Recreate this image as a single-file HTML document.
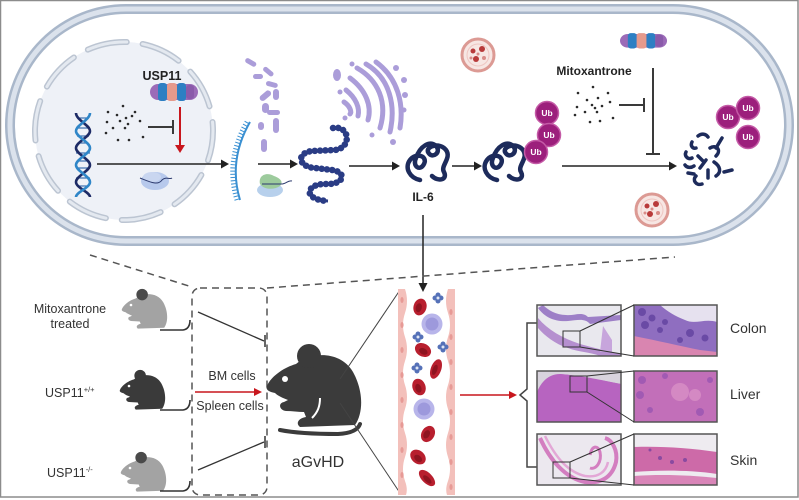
<!DOCTYPE html>
<html><head><meta charset="utf-8"><style>
html,body{margin:0;padding:0;background:#fff;}
svg{display:block;font-family:"Liberation Sans",Arial,sans-serif;}
</style></head><body>
<svg width="799" height="500" viewBox="0 0 799 500" xmlns="http://www.w3.org/2000/svg">
<defs>
<g id="mouse">
<path d="M267,386 C270,378 282,368 296,364 C310,352 340,350 353,372 C363,390 364,412 355,425 L300,427 C295,423 299,418 306,417 L304,412 C298,412 292,411 286,411 C279,410 278,403 284,402 L288,400 C283,398 278,396 275,393 C270,392 265,390 267,386 Z"/>
</g>
<g id="lyso">
<circle r="16" fill="#f7e6e3" stroke="#dc9a94" stroke-width="3"/>
<circle r="11" fill="none" stroke="#eec6c2" stroke-width="1"/>
<circle cx="-5" cy="-4" r="2.5" fill="#b83a3a"/>
<circle cx="4" cy="-6" r="3" fill="#b83a3a"/>
<circle cx="-2" cy="4" r="3" fill="#b83a3a"/>
<circle cx="6" cy="3" r="2" fill="#d98c88"/>
<circle cx="0" cy="-1" r="1.5" fill="#d98c88"/>
<circle cx="-7" cy="3" r="1.5" fill="#d98c88"/>
</g>
<g id="ub">
<circle r="11.5" fill="#9c1f7c" stroke="#c45aa6" stroke-width="1.5"/>
<text x="0" y="3" font-size="8.5" font-weight="bold" fill="#fff" text-anchor="middle">Ub</text>
</g>
<g id="prot">
<rect x="0" y="0" width="48" height="16" rx="8" fill="#9b6bb8"/>
<rect x="8" y="-1" width="9" height="18" rx="3" fill="#2d7fc3"/>
<rect x="17" y="-1" width="10" height="18" rx="3" fill="#e59a8c"/>
<rect x="27" y="-1" width="9" height="18" rx="3" fill="#2d7fc3"/>
<rect x="36" y="1" width="8" height="14" rx="3" fill="#8a5aaa"/>
</g>
<g id="tangle" fill="none" stroke="#1d2b5b" stroke-width="4.5" stroke-linecap="round">
<path d="M420,180 C410,178 404,168 410,160 C416,152 428,156 424,164 C420,172 412,166 416,158 C420,146 430,140 436,146 C442,152 432,160 428,152 C426,146 440,142 446,150 C452,158 440,166 444,172 C448,180 438,182 432,176"/>
</g>
<g id="rbc">
<ellipse rx="6.5" ry="8.5" fill="#b81f2e"/>
<ellipse cx="-1" cy="1" rx="3" ry="4.5" fill="#8e1420"/>
</g>
<g id="lym">
<circle r="10.5" fill="#b8b5ea"/>
<circle r="6.5" fill="#9d99dc"/>
</g>
<g id="plt" fill="#5571b8">
<circle cx="0" cy="-3" r="2.5"/><circle cx="3" cy="0" r="2.5"/><circle cx="0" cy="3" r="2.5"/><circle cx="-3" cy="0" r="2.5"/>
<circle r="1.5" fill="#dfe6f5"/>
</g>
</defs>

<!-- frame -->
<rect x="0.5" y="0.5" width="797.5" height="496.5" fill="#fff" stroke="#8c8c8c" stroke-width="1.5"/>

<!-- cell capsule -->
<rect x="10" y="9" width="779" height="232" rx="116" fill="#ffffff" stroke="#a9b7ca" stroke-width="10"/>
<rect x="10" y="9" width="779" height="232" rx="116" fill="none" stroke="#dbe2ec" stroke-width="5"/>

<!-- nucleus -->
<circle cx="124" cy="131" r="89" fill="#eef1f7"/>
<circle cx="124" cy="131" r="89" fill="none" stroke="#bcc5d2" stroke-width="6" stroke-dasharray="40 16" stroke-dashoffset="10" stroke-linecap="round"/>
<circle cx="124" cy="131" r="89" fill="none" stroke="#e4e9f0" stroke-width="3" stroke-dasharray="40 16" stroke-dashoffset="10" stroke-linecap="round"/>

<!-- DNA -->
<g stroke-width="1.2" stroke="#3a6fb0">
<line x1="78" y1="118" x2="88" y2="118"/><line x1="76" y1="128" x2="90" y2="128"/><line x1="77" y1="136" x2="89" y2="136"/>
<line x1="78" y1="143" x2="88" y2="143"/><line x1="76" y1="153" x2="90" y2="153"/><line x1="77" y1="161" x2="89" y2="161"/>
<line x1="78" y1="168" x2="88" y2="168"/><line x1="76" y1="178" x2="90" y2="178"/><line x1="77" y1="186" x2="89" y2="186"/>
</g>
<path d="M76,113 C76,120 90,125 90,131 C90,137 76,142 76,148 C76,154 90,159 90,165 C90,171 76,176 76,182 C76,188 90,192 90,197" fill="none" stroke="#1d2b66" stroke-width="2.6"/>
<path d="M90,113 C90,120 76,125 76,131 C76,137 90,142 90,148 C90,154 76,159 76,165 C76,171 90,176 90,182 C90,188 76,192 76,197" fill="none" stroke="#2f86c8" stroke-width="2.6"/>

<!-- dots nucleus -->
<g fill="#2a2a2a">
<circle cx="123" cy="106" r="1.3"/><circle cx="108" cy="112" r="1.3"/><circle cx="117" cy="115" r="1.3"/><circle cx="135" cy="112" r="1.3"/>
<circle cx="107" cy="122" r="1.3"/><circle cx="120" cy="121" r="1.3"/><circle cx="126" cy="118" r="1.3"/><circle cx="128" cy="124" r="1.3"/>
<circle cx="113" cy="128" r="1.3"/><circle cx="125" cy="128" r="1.3"/><circle cx="106" cy="133" r="1.3"/><circle cx="140" cy="121" r="1.3"/>
<circle cx="118" cy="140" r="1.3"/><circle cx="129" cy="140" r="1.3"/><circle cx="143" cy="137" r="1.3"/><circle cx="132" cy="116" r="1.3"/>
</g>
<line x1="148" y1="127" x2="173" y2="127" stroke="#3a3a3a" stroke-width="2"/>
<line x1="173" y1="120" x2="173" y2="134" stroke="#3a3a3a" stroke-width="2"/>

<text x="162" y="80" font-size="12.5" font-weight="bold" fill="#222" text-anchor="middle">USP11</text>
<use href="#prot" transform="translate(150,84)"/>
<line x1="180" y1="107" x2="180" y2="146" stroke="#c8161d" stroke-width="2"/>
<polygon points="175,145 185,145 180,153" fill="#c8161d"/>

<!-- main arrow 1 -->
<line x1="97" y1="164" x2="222" y2="164" stroke="#222" stroke-width="1.5"/>
<polygon points="221,159.5 229,164 221,168.5" fill="#222"/>
<!-- ribosome nucleus -->
<ellipse cx="155" cy="181" rx="14" ry="9" fill="#b7c9ec"/>
<ellipse cx="152" cy="177" rx="9" ry="5" fill="#c9d6f0"/>
<path d="M140,178 C150,182 158,186 162,180 C166,176 170,180 172,178" fill="none" stroke="#2c3a6e" stroke-width="1"/>

<!-- mRNA -->
<path d="M250,122 Q228,160 240,200" fill="none" stroke="#3a90d2" stroke-width="2"/>
<path d="M247,122 Q225,160 237,200" fill="none" stroke="#3a90d2" stroke-width="5" stroke-dasharray="1 2.2"/>

<!-- ER -->
<g fill="#ab9dd9">
<rect x="245" y="60" width="12" height="5" rx="2.5" transform="rotate(30 251 62)"/>
<rect x="262" y="69" width="12" height="5" rx="2.5" transform="rotate(40 268 72)"/>
<rect x="253" y="74" width="10" height="5" rx="2.5"/>
<rect x="266" y="82" width="12" height="5" rx="2.5" transform="rotate(15 272 84)"/>
<rect x="259" y="93" width="13" height="6" rx="3" transform="rotate(-40 265 96)"/>
<rect x="273" y="89" width="6" height="11" rx="3"/>
<rect x="262" y="103" width="7" height="10" rx="3.5"/>
<rect x="267" y="110" width="13" height="5" rx="2.5"/>
<rect x="273" y="118" width="6" height="15" rx="3"/>
<rect x="261" y="139" width="6" height="13" rx="3"/>
<rect x="258" y="122" width="6" height="8" rx="3"/>
</g>

<!-- ribosome green -->
<ellipse cx="270" cy="190" rx="13" ry="7" fill="#b7d0ec"/>
<path d="M260,184 C258,174 268,172 274,176 C280,178 284,182 280,186 C274,190 264,190 260,184 Z" fill="#9dcb9d"/>
<path d="M262,184 L282,184 C286,184 288,180 292,181" fill="none" stroke="#2c3a6e" stroke-width="1"/>
<line x1="258" y1="164" x2="291" y2="164" stroke="#222" stroke-width="1.5"/>
<polygon points="290,159.5 298,164 290,168.5" fill="#222"/>

<!-- polypeptide -->
<path d="M333,128 C350,125 352,148 335,150 L312,151 C296,153 298,167 315,168 L332,170 C347,172 345,185 325,184 C305,184 303,200 328,201" fill="none" stroke="#2a3c85" stroke-width="3"/>
<path d="M333,128 C350,125 352,148 335,150 L312,151 C296,153 298,167 315,168 L332,170 C347,172 345,185 325,184 C305,184 303,200 328,201" fill="none" stroke="#2a3c85" stroke-width="6.5" stroke-linecap="round" stroke-dasharray="0.1 5.2"/>

<!-- Golgi -->
<g fill="none" stroke="#ab9dd9" stroke-width="5" stroke-linecap="round">
<path d="M357,68 C378,80 388,102 380,128"/>
<path d="M366,64 C390,78 396,106 390,132"/>
<path d="M376,62 C398,78 404,104 400,128"/>
<path d="M350,78 C366,90 372,106 368,120"/>
<path d="M346,90 C356,98 360,108 358,116"/>
<path d="M344,102 C350,106 352,112 350,114"/>
</g>
<g fill="#ab9dd9">
<ellipse cx="337" cy="75" rx="4" ry="6"/><circle cx="352" cy="64" r="2.5"/><circle cx="345" cy="118" r="2.5"/>
<circle cx="396" cy="68" r="3"/><circle cx="404" cy="80" r="3"/><circle cx="405" cy="95" r="3"/><circle cx="404" cy="110" r="2.5"/>
<circle cx="393" cy="142" r="3"/><circle cx="372" cy="135" r="2.5"/><circle cx="340" cy="92" r="2.5"/>
</g>
<line x1="349" y1="166" x2="393" y2="166" stroke="#222" stroke-width="1.5"/>
<polygon points="392,161.5 400,166 392,170.5" fill="#222"/>

<!-- IL-6 -->
<use href="#tangle"/>
<text x="423" y="201" font-size="12" font-weight="bold" fill="#222" text-anchor="middle">IL-6</text>
<line x1="423" y1="215" x2="423" y2="284" stroke="#222" stroke-width="1.5"/>
<polygon points="418.5,283 427.5,283 423,292" fill="#222"/>
<line x1="452" y1="166" x2="475" y2="166" stroke="#222" stroke-width="1.5"/>
<polygon points="474,161.5 482,166 474,170.5" fill="#222"/>
<use href="#tangle" transform="translate(77,0)"/>
<use href="#ub" transform="translate(547,113)"/>
<use href="#ub" transform="translate(549,135)"/>
<use href="#ub" transform="translate(536,152)"/>

<use href="#lyso" transform="translate(478,55)"/>
<use href="#lyso" transform="translate(652,210)"/>

<!-- Mitoxantrone -->
<text x="594" y="75" font-size="12" font-weight="bold" fill="#222" text-anchor="middle">Mitoxantrone</text>
<use href="#prot" transform="translate(620,34) scale(0.98,0.85)"/>
<g fill="#2a2a2a">
<circle cx="593" cy="87" r="1.3"/><circle cx="578" cy="93" r="1.3"/><circle cx="608" cy="93" r="1.3"/><circle cx="587" cy="100" r="1.3"/>
<circle cx="598" cy="98" r="1.3"/><circle cx="577" cy="107" r="1.3"/><circle cx="592" cy="105" r="1.3"/><circle cx="602" cy="106" r="1.3"/>
<circle cx="610" cy="102" r="1.3"/><circle cx="585" cy="112" r="1.3"/><circle cx="597" cy="112" r="1.3"/><circle cx="575" cy="115" r="1.3"/>
<circle cx="613" cy="118" r="1.3"/><circle cx="590" cy="122" r="1.3"/><circle cx="600" cy="121" r="1.3"/><circle cx="595" cy="108" r="1.3"/>
</g>
<line x1="619" y1="105" x2="644" y2="105" stroke="#3a3a3a" stroke-width="2"/>
<line x1="644" y1="98" x2="644" y2="112" stroke="#3a3a3a" stroke-width="2"/>
<line x1="653" y1="68" x2="653" y2="154" stroke="#3a3a3a" stroke-width="2"/>
<line x1="646" y1="154" x2="660" y2="154" stroke="#3a3a3a" stroke-width="2"/>
<line x1="562" y1="166" x2="670" y2="166" stroke="#222" stroke-width="1.5"/>
<polygon points="669,161.5 677,166 669,170.5" fill="#222"/>

<!-- degraded fragments -->
<g fill="none" stroke="#1d2b5b" stroke-width="3.5" stroke-linecap="round">
<path d="M698,136 C702,133 706,134 708,137"/>
<path d="M692,142 C690,146 693,149 696,148"/>
<path d="M686,152 C684,156 688,160 692,158"/>
<path d="M685,165 C687,168 691,168 694,166"/>
<path d="M698,156 L704,162"/>
<path d="M700,168 L706,160"/>
<path d="M710,148 C716,144 722,150 716,156"/>
<path d="M714,162 C720,166 722,172 716,176"/>
<path d="M722,138 L716,148"/>
<path d="M724,172 L732,170"/>
<path d="M696,176 C692,180 696,186 702,184"/>
<path d="M708,170 L708,178"/>
<path d="M688,173 L694,174"/>
</g>
<use href="#ub" transform="translate(728,117)"/>
<use href="#ub" transform="translate(748,108)"/>
<use href="#ub" transform="translate(748,137)"/>

<!-- bottom dashed -->
<g fill="none" stroke="#555" stroke-width="1.5" stroke-dasharray="7 5">
<line x1="90" y1="255" x2="192" y2="287"/>
<rect x="192" y="288" width="75" height="207" rx="8"/>
<line x1="267" y1="288" x2="675" y2="257"/>
</g>

<!-- small mice -->
<g transform="translate(-6.2,123.7) scale(0.48)">
<use href="#mouse" fill="#a3a3a3"/><circle cx="309" cy="356" r="12" fill="#4a4a4a"/>
</g>
<circle cx="131" cy="305" r="1.3" fill="#fff"/>
<path d="M160,330 L183,330 Q190,329 190,320" fill="none" stroke="#333" stroke-width="1.6"/>
<g transform="translate(-8.2,204.7) scale(0.48)">
<use href="#mouse" fill="#3a3a3a"/><circle cx="309" cy="356" r="12" fill="#3a3a3a"/>
</g>
<circle cx="129" cy="386" r="1.3" fill="#fff"/>
<path d="M160,410 L183,410 Q190,409 190,400" fill="none" stroke="#333" stroke-width="1.6"/>
<g transform="translate(-7.2,286.7) scale(0.48)">
<use href="#mouse" fill="#a3a3a3"/><circle cx="309" cy="356" r="12" fill="#4a4a4a"/>
</g>
<circle cx="130" cy="468" r="1.3" fill="#fff"/>
<path d="M160,491 L183,491 Q190,490 190,481" fill="none" stroke="#333" stroke-width="1.6"/>

<g font-size="12.5" fill="#333" text-anchor="middle">
<text x="70" y="313">Mitoxantrone</text>
<text x="70" y="328">treated</text>
</g>
<text x="45" y="397" font-size="12.5" fill="#333">USP11<tspan font-size="7.5" dy="-5">+/+</tspan></text>
<text x="47" y="477" font-size="12.5" fill="#333">USP11<tspan font-size="7.5" dy="-5">-/-</tspan></text>

<!-- arrows to big mouse -->
<line x1="198" y1="312" x2="264" y2="341" stroke="#333" stroke-width="1.3"/>
<line x1="265" y1="335" x2="265" y2="347" stroke="#333" stroke-width="1.5"/>
<line x1="198" y1="470" x2="264" y2="442" stroke="#333" stroke-width="1.3"/>
<line x1="265" y1="436" x2="265" y2="448" stroke="#333" stroke-width="1.5"/>
<line x1="195" y1="392" x2="255" y2="392" stroke="#c8161d" stroke-width="1.5"/>
<polygon points="254,388 262,392 254,396" fill="#c8161d"/>
<text x="232" y="380" font-size="12.5" fill="#333" text-anchor="middle">BM cells</text>
<text x="230" y="410" font-size="12.5" fill="#333" text-anchor="middle">Spleen cells</text>

<!-- big mouse -->
<use href="#mouse" fill="#3b3b3b"/>
<circle cx="309" cy="356" r="12" fill="#3b3b3b"/>
<circle cx="285" cy="379" r="3" fill="#fff"/>
<path d="M320,398 C320,406 318,412 312,418" fill="none" stroke="#fff" stroke-width="2"/>
<path d="M280,430 Q300,434 338,434 Q357,433 360,424" fill="none" stroke="#3b3b3b" stroke-width="4" stroke-linecap="round"/>
<text x="318" y="467" font-size="16" fill="#333" text-anchor="middle">aGvHD</text>

<line x1="340" y1="379" x2="400" y2="290" stroke="#444" stroke-width="1"/>
<line x1="340" y1="403" x2="400" y2="493" stroke="#444" stroke-width="1"/>

<!-- vessel -->
<path d="M398,289 L405,289 Q409,301 405,313 Q401,325 405,337 Q409,349 405,361 Q401,373 405,385 Q409,397 405,409 Q401,421 405,433 Q409,445 405,457 Q401,469 405,481 Q408,489 406,495 L398,495 Z" fill="#f3c0bb"/>
<path d="M455,289 L448,289 Q444,301 448,313 Q452,325 448,337 Q444,349 448,361 Q452,373 448,385 Q444,397 448,409 Q452,421 448,433 Q444,445 448,457 Q452,469 448,481 Q445,489 447,495 L455,495 Z" fill="#f3c0bb"/>
<g fill="#e79a96">
<ellipse cx="402" cy="300" rx="1.6" ry="3"/><ellipse cx="402" cy="325" rx="1.6" ry="3"/><ellipse cx="402" cy="350" rx="1.6" ry="3"/>
<ellipse cx="402" cy="375" rx="1.6" ry="3"/><ellipse cx="402" cy="400" rx="1.6" ry="3"/><ellipse cx="402" cy="425" rx="1.6" ry="3"/>
<ellipse cx="402" cy="450" rx="1.6" ry="3"/><ellipse cx="402" cy="475" rx="1.6" ry="3"/>
<ellipse cx="451" cy="312" rx="1.6" ry="3"/><ellipse cx="451" cy="337" rx="1.6" ry="3"/><ellipse cx="451" cy="362" rx="1.6" ry="3"/>
<ellipse cx="451" cy="387" rx="1.6" ry="3"/><ellipse cx="451" cy="412" rx="1.6" ry="3"/><ellipse cx="451" cy="437" rx="1.6" ry="3"/>
<ellipse cx="451" cy="462" rx="1.6" ry="3"/><ellipse cx="451" cy="487" rx="1.6" ry="3"/>
</g>
<use href="#rbc" transform="translate(420,307) rotate(15)"/>
<use href="#rbc" transform="translate(423,350) rotate(-60)"/>
<use href="#rbc" transform="translate(436,369) rotate(20) scale(0.8,1.2)"/>
<use href="#rbc" transform="translate(419,387) rotate(-20)"/>
<use href="#rbc" transform="translate(428,434) rotate(30)"/>
<use href="#rbc" transform="translate(418,457) rotate(-50)"/>
<use href="#rbc" transform="translate(427,478) rotate(-45) scale(0.8,1.2)"/>
<use href="#lym" transform="translate(432,324)"/>
<use href="#lym" transform="translate(424,409)"/>
<use href="#plt" transform="translate(438,298)"/>
<use href="#plt" transform="translate(418,337)"/>
<use href="#plt" transform="translate(443,347)"/>
<use href="#plt" transform="translate(417,368)"/>

<line x1="460" y1="395" x2="510" y2="395" stroke="#c8161d" stroke-width="1.5"/>
<polygon points="509,391 517,395 509,399" fill="#c8161d"/>

<!-- brace -->
<path d="M537,323 L527,323 L527,389 L520,395 L527,401 L527,467 L537,467" fill="none" stroke="#444" stroke-width="1.5"/>

<!-- histology -->
<rect x="537" y="305" width="84" height="51" fill="#e9e8ee"/>
<path d="M538,308 C545,318 556,322 568,321 C578,320 585,318 590,324 L621,320 L621,315 L588,317 C582,311 574,316 566,315 C556,315 548,310 543,305 Z" fill="#9d7fc7"/>
<path d="M538,318 C548,330 562,338 580,344 C595,348 610,352 621,354 L621,356 L600,356 C590,352 578,352 568,348 C555,344 545,336 538,328 Z" fill="#b58fcf"/>
<path d="M603,326 L612,340 L612,352 L600,352 Z" fill="#c7a5dc"/>
<rect x="634" y="305" width="83" height="51" fill="#8f6ec0"/>
<path d="M660,305 L717,305 L717,322 C705,318 695,325 685,320 C675,316 668,312 660,305 Z" fill="#e6e1ef"/>
<path d="M634,336 C655,340 680,346 700,350 L717,352 L717,356 L634,356 Z" fill="#d985b0"/>
<g fill="#6a4aa5"><circle cx="642" cy="312" r="4"/><circle cx="652" cy="318" r="3.5"/><circle cx="645" cy="325" r="4"/><circle cx="665" cy="322" r="3"/><circle cx="690" cy="333" r="4"/><circle cx="705" cy="338" r="3.5"/><circle cx="680" cy="340" r="3"/><circle cx="660" cy="330" r="3"/></g>
<rect x="537" y="371" width="84" height="51" fill="#b764c0"/>
<path d="M537,371 L621,371 L621,384 C600,380 585,376 560,374 C550,374 542,380 537,392 Z" fill="#d8d3dd"/>
<path d="M560,374 C580,376 600,380 621,384 L621,386 C600,382 580,378 560,376 Z" fill="#b764c0"/>
<rect x="634" y="371" width="83" height="51" fill="#c26fb9"/>
<g fill="#9a55b2" opacity="0.8"><circle cx="642" cy="380" r="4"/><circle cx="640" cy="395" r="4"/><circle cx="650" cy="410" r="3"/><circle cx="700" cy="412" r="4"/><circle cx="710" cy="380" r="3"/><circle cx="665" cy="376" r="3"/></g>
<g fill="#d990c6" opacity="0.8"><circle cx="680" cy="392" r="9"/><circle cx="695" cy="395" r="6"/></g>
<rect x="537" y="434" width="84" height="51" fill="#ece8ef"/>
<path d="M540,438 C550,460 565,478 585,482 C600,484 612,478 616,462 C618,450 612,440 605,438" fill="none" stroke="#d37ec0" stroke-width="4"/>
<path d="M545,436 C556,458 568,472 585,476 C598,478 606,472 608,462" fill="none" stroke="#e3a7d6" stroke-width="2.5"/>
<path d="M590,455 C592,445 598,445 600,452 C602,462 596,470 590,468" fill="none" stroke="#d37ec0" stroke-width="3"/>
<rect x="634" y="434" width="83" height="51" fill="#eeebf0"/>
<path d="M634,447 C660,446 690,448 717,452 L717,474 C690,470 660,470 634,472 Z" fill="#cd6aa8"/>
<path d="M634,476 C660,474 690,475 717,478 L717,485 L634,485 Z" fill="#d985b8"/>
<g fill="#8a4aa0"><circle cx="660" cy="458" r="2"/><circle cx="672" cy="462" r="2"/><circle cx="685" cy="460" r="2"/><circle cx="650" cy="450" r="1.5"/></g>

<g fill="none" stroke="#555" stroke-width="1.5">
<rect x="537" y="305" width="84" height="51"/><rect x="634" y="305" width="83" height="51"/>
<rect x="537" y="371" width="84" height="51"/><rect x="634" y="371" width="83" height="51"/>
<rect x="537" y="434" width="84" height="51"/><rect x="634" y="434" width="83" height="51"/>
</g>
<g fill="none" stroke="#333" stroke-width="1">
<rect x="563" y="331" width="17" height="16"/>
<line x1="580" y1="331" x2="634" y2="305"/><line x1="580" y1="347" x2="634" y2="356"/>
<rect x="570" y="376" width="17" height="16"/>
<line x1="587" y1="376" x2="634" y2="371"/><line x1="587" y1="392" x2="634" y2="422"/>
<rect x="553" y="462" width="17" height="16"/>
<line x1="570" y1="462" x2="634" y2="434"/><line x1="570" y1="478" x2="634" y2="485"/>
</g>
<g font-size="14" fill="#333">
<text x="730" y="333">Colon</text>
<text x="730" y="399">Liver</text>
<text x="730" y="465">Skin</text>
</g>
</svg>
</body></html>
